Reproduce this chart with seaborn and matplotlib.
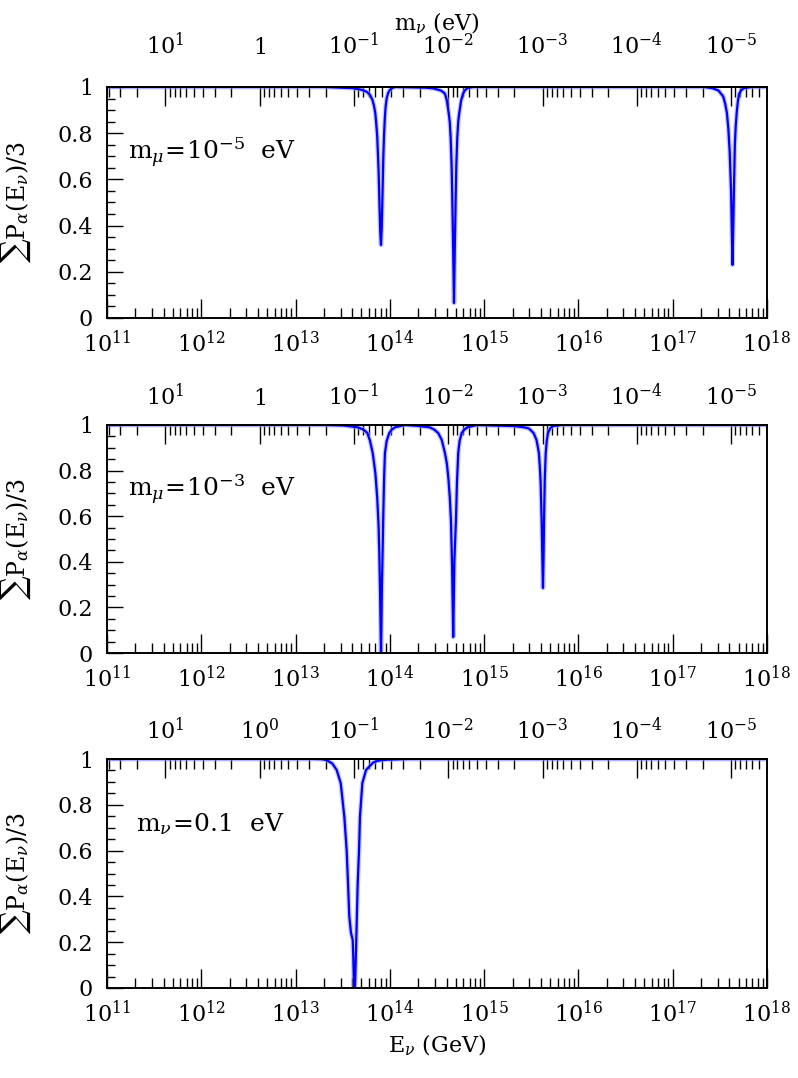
import numpy as np
import pandas as pd
import matplotlib
matplotlib.use("Agg")
import matplotlib.pyplot as plt
import seaborn as sns
from matplotlib.ticker import LogLocator, NullFormatter, MultipleLocator

# ---------------- data ----------------
# log10(E_nu / GeV) and sum P_alpha / 3 for each panel
panel1_logE = [11.0, 13.3, 13.606, 13.70, 13.756, 13.79, 13.816, 13.832, 13.846, 13.856, 13.866, 13.881, 13.891, 13.898, 13.906,
               13.914, 13.921, 13.931, 13.938, 13.946, 13.955, 13.966, 13.98, 13.996, 14.02, 14.056,
               14.28, 14.38, 14.46, 14.54, 14.565, 14.585, 14.605, 14.623, 14.635, 14.645, 14.655, 14.662, 14.67, 14.675, 14.68,
               14.685, 14.69, 14.698, 14.705, 14.715, 14.725, 14.737, 14.755, 14.775, 14.795, 14.82, 14.88,
               17.334, 17.42, 17.484, 17.534, 17.555, 17.574, 17.59, 17.604, 17.619, 17.628, 17.634,
               17.640, 17.649, 17.659, 17.668, 17.679, 17.69, 17.704, 17.725, 17.754, 17.834, 18.0]
panel1_P = [1.0, 1.0, 0.995, 0.988, 0.979, 0.965, 0.943, 0.918, 0.885, 0.84, 0.786, 0.632, 0.477, 0.371, 0.316,
            0.39, 0.52, 0.70, 0.79, 0.86, 0.915, 0.95, 0.972, 0.985, 0.995, 1.0,
            0.998, 0.997, 0.994, 0.985, 0.978, 0.97, 0.94, 0.89, 0.85, 0.78, 0.66, 0.52, 0.33, 0.2, 0.065,
            0.2, 0.33, 0.52, 0.66, 0.78, 0.85, 0.89, 0.94, 0.97, 0.985, 0.995, 1.0,
            1.0, 0.995, 0.985, 0.96, 0.93, 0.89, 0.82, 0.72, 0.55, 0.35, 0.23,
            0.35, 0.55, 0.75, 0.83, 0.89, 0.935, 0.97, 0.985, 0.995, 1.0, 1.0]

panel2_logE = [11.0, 13.3, 13.506, 13.656, 13.72, 13.761, 13.79, 13.818, 13.846, 13.866, 13.881, 13.888, 13.896, 13.902, 13.906,
               13.910, 13.916, 13.924, 13.931, 13.939, 13.948, 13.966, 13.994, 14.02, 14.056, 14.156,
               14.272, 14.422, 14.47, 14.512, 14.55, 14.584, 14.605, 14.622, 14.636, 14.648, 14.66, 14.667, 14.672,
               14.677, 14.684, 14.701, 14.712, 14.725, 14.74, 14.762, 14.79, 14.822, 14.922,
               15.324, 15.42, 15.474, 15.524, 15.555, 15.581, 15.59, 15.599, 15.61, 15.617, 15.624,
               15.630, 15.636, 15.643, 15.653, 15.664, 15.677, 15.70, 15.724, 15.824, 18.0]
panel2_P = [1.0, 1.0, 0.998, 0.99, 0.98, 0.965, 0.93, 0.877, 0.79, 0.68, 0.55, 0.44, 0.27, 0.1, 0.0,
            0.1, 0.3, 0.46, 0.62, 0.77, 0.877, 0.93, 0.965, 0.98, 0.99, 1.0,
            0.997, 0.99, 0.98, 0.965, 0.935, 0.877, 0.83, 0.76, 0.68, 0.58, 0.38, 0.2, 0.07,
            0.2, 0.4, 0.583, 0.75, 0.877, 0.93, 0.965, 0.98, 0.99, 1.0,
            0.995, 0.99, 0.985, 0.965, 0.935, 0.877, 0.82, 0.75, 0.58, 0.42, 0.285,
            0.42, 0.6, 0.76, 0.877, 0.93, 0.965, 0.985, 0.995, 1.0, 1.0]

panel3_logE = [11.0, 13.2, 13.28, 13.330, 13.39, 13.436, 13.479, 13.517, 13.542, 13.556, 13.570, 13.588, 13.606,
               13.612, 13.620, 13.630, 13.641, 13.659, 13.673, 13.683, 13.708, 13.747, 13.824, 13.88, 13.966,
               14.2, 18.0]
panel3_P = [1.0, 1.0, 0.999, 0.995, 0.98, 0.952, 0.894, 0.748, 0.60, 0.458, 0.311, 0.24, 0.21,
            0.137, 0.0, 0.0, 0.166, 0.458, 0.60, 0.748, 0.894, 0.952, 0.985, 0.993, 0.997,
            1.0, 1.0]

panel_labels = [r"$\mathrm{m}_\mu\!=\!10^{-5}$  eV",
                r"$\mathrm{m}_\mu\!=\!10^{-3}$  eV",
                r"$\mathrm{m}_\nu\!=\!0.1$  eV"]

E_tick_exps = [11, 12, 13, 14, 15, 16, 17, 18]
m_ticks = [10.0, 1.0, 0.1, 1e-2, 1e-3, 1e-4, 1e-5]
m_ticklabels_a = [r"$10^{1}$", r"$1$", r"$10^{-1}$", r"$10^{-2}$", r"$10^{-3}$", r"$10^{-4}$", r"$10^{-5}$"]
m_ticklabels_b = [r"$10^{1}$", r"$10^{0}$", r"$10^{-1}$", r"$10^{-2}$", r"$10^{-3}$", r"$10^{-4}$", r"$10^{-5}$"]
y_ticks = [0, 0.2, 0.4, 0.6, 0.8, 1.0]
y_ticklabels = ["0", "0.2", "0.4", "0.6", "0.8", "1"]

K_res = 4.16e12  # E_res (GeV) * m_nu (eV) = M_Z^2 / 2

# ---------------- style ----------------
sns.set_theme(style="ticks")
plt.rcParams["font.family"] = ["DejaVu Serif"]
plt.rcParams["mathtext.fontset"] = "dejavuserif"
plt.rcParams["axes.edgecolor"] = "black"
plt.rcParams["xtick.color"] = "black"
plt.rcParams["ytick.color"] = "black"
plt.rcParams["text.color"] = "black"
plt.rcParams["axes.labelcolor"] = "black"

W, H = 798, 1078
fig = plt.figure(figsize=(W / 100, H / 100), dpi=100)

# axes boxes in pixels: (top, bottom)
boxes = [(87, 318), (425, 653), (759, 988)]
left_px, right_px = 107, 767

panels = [(panel1_logE, panel1_P, m_ticklabels_a),
          (panel2_logE, panel2_P, m_ticklabels_a),
          (panel3_logE, panel3_P, m_ticklabels_b)]

fs = 16
for i, ((logE, P, mlabels), (top, bot)) in enumerate(zip(panels, boxes)):
    ax = fig.add_axes([left_px / W, 1 - bot / H, (right_px - left_px) / W, (bot - top) / H])
    ax.set_xscale("log")
    ax.set_xlim(1e11, 1e18)
    ax.set_ylim(0, 1)
    df = pd.DataFrame({"E": 10 ** np.array(logE), "P": P})
    sns.lineplot(data=df, x="E", y="P", ax=ax, color="#a0a0ff", linewidth=3.4,
                 estimator=None, sort=False, alpha=0.6)
    sns.lineplot(data=df, x="E", y="P", ax=ax, color="#0000ff", linewidth=1.6,
                 estimator=None, sort=False)

    ax.set_xticks([10.0 ** e for e in E_tick_exps])
    ax.set_xticklabels([r"$10^{%d}$" % e for e in E_tick_exps])
    ax.xaxis.set_minor_locator(LogLocator(base=10, subs=np.arange(2, 10), numticks=100))
    ax.xaxis.set_minor_formatter(NullFormatter())
    ax.set_yticks(y_ticks)
    ax.set_yticklabels(y_ticklabels)
    ax.yaxis.set_minor_locator(MultipleLocator(0.05))

    ax.tick_params(axis="x", which="both", direction="in", top=False, bottom=True,
                   labelsize=fs, pad=9)
    ax.tick_params(axis="x", which="major", length=14, width=1.0)
    ax.tick_params(axis="x", which="minor", length=7, width=1.0)
    ax.tick_params(axis="y", which="both", direction="in", right=False, left=True,
                   labelsize=fs, pad=10)
    ax.tick_params(axis="y", which="major", length=11.5, width=1.0)
    ax.tick_params(axis="y", which="minor", length=6, width=1.0)
    for s in ax.spines.values():
        s.set_linewidth(1.4)
        s.set_color("black")

    ax.set_xlabel("")
    ax.set_ylabel(r"$\sum\mathrm{P}_\alpha(\mathrm{E}_\nu)/3$", fontsize=17)
    ax.yaxis.set_label_coords(-0.112, 0.5)

    tx = 0.032 if i < 2 else 0.044
    ax.text(tx, 0.715, panel_labels[i], transform=ax.transAxes, fontsize=18,
            ha="left", va="center")

    secax = ax.secondary_xaxis("top", functions=(lambda E: K_res / E, lambda m: K_res / m))
    secax.set_xticks(m_ticks, labels=mlabels)
    secax.xaxis.set_minor_locator(LogLocator(base=10, subs=np.arange(2, 10), numticks=100))
    secax.xaxis.set_minor_formatter(NullFormatter())
    secax.tick_params(which="both", direction="in", labelsize=fs, pad=(20 if i == 0 else 11))
    secax.tick_params(which="major", length=14, width=1.0)
    secax.tick_params(which="minor", length=7, width=1.0)
    secax.spines["top"].set_linewidth(1.4)
    if i == 0:
        secax.set_xlabel(r"$\mathrm{m}_\nu$ (eV)", fontsize=fs, labelpad=2)
    if i == 2:
        ax.set_xlabel(r"$\mathrm{E}_\nu$ (GeV)", fontsize=fs, labelpad=4)

fig.savefig("out.png", dpi=100)
